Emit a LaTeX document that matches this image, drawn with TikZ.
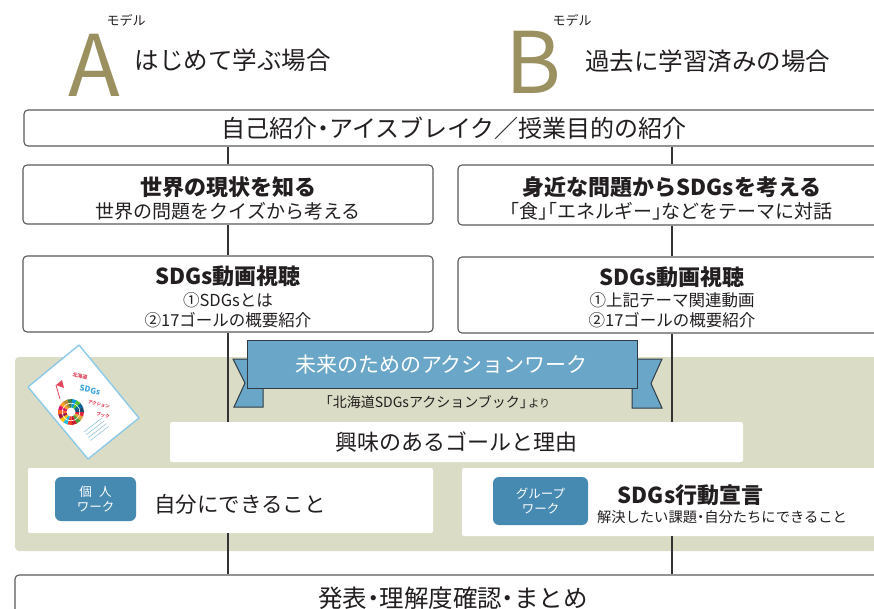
\documentclass[tikz,border=0pt]{standalone}
\usepackage{fontspec}
\setmainfont{Noto Sans CJK JP}
\newfontfamily\halffont{Noto Sans CJK JP}[RawFeature=+halt]
\usetikzlibrary{calc}

% half-width punctuation
\newcommand{\jlb}{{\halffont 「}}
\newcommand{\jrb}{{\halffont 」}}
\newcommand{\jdot}{{\halffont ・}}

\definecolor{modelgold}{HTML}{9A9060}
\definecolor{ink}{HTML}{231F20}
\definecolor{framegray}{HTML}{5A5A5A}
\definecolor{linegray}{HTML}{333333}
\definecolor{panelbg}{HTML}{DBDCC5}
\definecolor{bannerblue}{HTML}{6AA6C8}
\definecolor{bannerline}{HTML}{2F3B45}
\definecolor{badgeblue}{HTML}{4689B1}
\definecolor{bookline}{HTML}{8CCAEA}
\definecolor{bookred}{HTML}{E0475A}
\definecolor{bookblue}{HTML}{3FA6DC}

\tikzset{
  frame/.style={draw=framegray, line width=1.1pt, rounded corners=4pt, fill=white, inner sep=0pt},
  whitebox/.style={fill=white, rounded corners=2pt, inner sep=0pt},
  badge/.style={fill=badgeblue, rounded corners=6pt, text=white, align=center, inner sep=0pt,
    font=\fontsize{12.5}{15.5}\selectfont},
  link/.style={draw=linegray, line width=1.1pt},
  headtitle/.style={font=\fontsize{22}{26}\selectfont\bfseries, text=ink, inner sep=0pt},
  subline/.style={font=\fontsize{19}{22}\selectfont, text=ink, inner sep=0pt},
  smallline/.style={font=\fontsize{16.5}{20}\selectfont, text=ink, inner sep=0pt},
  bigline/.style={font=\fontsize{24}{28}\selectfont, text=ink, inner sep=0pt},
  tail/.style={fill=bannerblue, draw=bannerline, line width=1pt, line join=miter},
  bigletter/.style={font=\fontsize{85}{85}\selectfont, text=modelgold, inner sep=0pt,
    text height=61pt, text depth=0pt, anchor=base},
  covertext/.style={font=\fontsize{5}{6}\selectfont\bfseries, text=bookred, rotate=-12, inner sep=0pt},
}

\begin{document}
\begin{tikzpicture}[x=1pt, y=-1pt]
\useasboundingbox (0,0) rectangle (874,609);
\clip (0,0) rectangle (874,609);

% ---- headings of the two models
\node[font=\fontsize{13}{14}\selectfont, text=ink, inner sep=0pt] (modelA) at (126,20) {モデル};
\node[bigletter] (letterA) at (94,97) {A};
\node[font=\fontsize{24.5}{28}\selectfont, text=ink, inner sep=0pt] (headA) at (232.5,60) {はじめて学ぶ場合};

\node[font=\fontsize{13}{14}\selectfont, text=ink, inner sep=0pt] (modelB) at (572,20) {モデル};
\node[bigletter] (letterB) at (533,93.5) {B};
\node[font=\fontsize{24.5}{28}\selectfont, text=ink, inner sep=0pt] (headB) at (707.5,61) {過去に学習済みの場合};

% ---- background panel of the action work
\node[fill=panelbg, rounded corners=4pt, minimum width=885pt, minimum height=194pt, inner sep=0pt]
  (panel) at (457.5,454) {};

% ---- flow boxes
\node[frame, minimum width=860pt, minimum height=36pt] (intro) at (454,128) {};
\node[bigline] (introtext) at (454,128) {自己紹介\jdot アイスブレイク／授業目的の紹介};

\node[frame, minimum width=410pt, minimum height=59pt] (b1L) at (228,194.5) {};
\node[headtitle] (b1Lt) at (228,187) {世界の現状を知る};
\node[subline] (b1Ls) at (228,211) {世界の問題をクイズから考える};

\node[frame, minimum width=410pt, minimum height=76pt] (b2L) at (228,294) {};
\node[headtitle] (b2Lt) at (228,276) {SDGs動画視聴};
\node[smallline] (b2La) at (228,300) {①SDGsとは};
\node[smallline] (b2Lb) at (228,320) {②17ゴールの概要紹介};

\node[frame, minimum width=428pt, minimum height=60pt] (b1R) at (672,195) {};
\node[headtitle] (b1Rt) at (672,187) {身近な問題からSDGsを考える};
\node[subline] (b1Rs) at (671,211) {\jlb 食\jrb\jlb エネルギー\jrb などをテーマに対話};

\node[frame, minimum width=428pt, minimum height=76pt] (b2R) at (672,295) {};
\node[headtitle] (b2Rt) at (672,277) {SDGs動画視聴};
\node[smallline] (b2Ra) at (672,300) {①上記テーマ関連動画};
\node[smallline] (b2Rb) at (672,320) {②17ゴールの概要紹介};

% ---- boxes inside the panel
\node[whitebox, minimum width=573pt, minimum height=40pt] (interest) at (456.5,442) {};
\node[font=\fontsize{22}{26}\selectfont, text=ink, inner sep=0pt] (interesttext) at (456,442) {興味のあるゴールと理由};

\node[whitebox, minimum width=405pt, minimum height=65pt] (lowL) at (230.5,500.5) {};
\node[badge, minimum width=81pt, minimum height=44pt] (badgeL) at (95.5,499) {個\hspace{0.6em}人\\ワーク};
\node[font=\fontsize{21.5}{26}\selectfont, text=ink, inner sep=0pt] (lowLtext) at (240,504) {自分にできること};

\node[whitebox, minimum width=438pt, minimum height=68pt] (lowR) at (681,502) {};
\node[badge, minimum width=95pt, minimum height=48pt] (badgeR) at (540.5,501) {グループ\\ワーク};
\node[headtitle] (lowRtext) at (690.5,495) {SDGs行動宣言};
\node[font=\fontsize{14.3}{17}\selectfont, text=ink, inner sep=0pt] (lowRsub) at (722,517) {解決したい課題\jdot 自分たちにできること};

\node[frame, minimum width=878pt, minimum height=65pt] (summary) at (454,607.5) {};
\node[bigline, font=\fontsize{24.5}{28}\selectfont] (summarytext) at (453,598) {発表\jdot 理解度確認\jdot まとめ};

% ---- connectors, left column
\draw[link] (intro.south -| b1L.north) -- (b1L.north);
\draw[link] (b1L.south) -- (b2L.north);
\draw[link] (b2L.south) -- (b2L.south |- interest.north);
\draw[link] (lowL.south -| b2L.south) -- (summary.north -| b2L.south);
% ---- connectors, right column
\draw[link] (intro.south -| b1R.north) -- (b1R.north);
\draw[link] (b1R.south) -- (b2R.north);
\draw[link] (b2R.south) -- (b2R.south |- interest.north);
\draw[link] (lowR.south -| b2R.south) -- (summary.north -| b2R.south);

% ---- ribbon banner
\draw[tail] (233,359) -- (263,359) -- (263,407) -- (234,407) -- (245,383) -- cycle;
\draw[tail] (632,359) -- (662,359) -- (651,383.5) -- (662,408) -- (632,408) -- cycle;
\node[fill=bannerblue, draw=bannerline, line width=1pt, minimum width=390pt, minimum height=48pt, inner sep=0pt]
  (banner) at (442,364) {};
\node[font=\fontsize{21}{25}\selectfont, text=white, inner sep=0pt] (bannertext) at (441.5,365) {未来のためのアクションワーク};
\node[font=\fontsize{14}{16}\selectfont, text=ink, inner sep=0pt] (source) at (438,402.5)
  {\jlb 北海道SDGsアクションブック\jrb\hspace{1.5pt}{\fontsize{11}{12}\selectfont より}};

% ---- booklet cover
\filldraw[fill=white, draw=bookline, line width=1.4pt, line join=round]
  (28,387) -- (79,345) -- (139,418) -- (88,459) -- cycle;
\coordinate (globe) at (71,412);
\foreach \a/\c in {0/E5243B, 1/DDA63A, 2/4C9F38, 3/C5192D, 4/FF3A21, 5/26BDE2,
                   6/FCC30B, 7/A21942, 8/FD6925, 9/DD1367, 10/FD9D24, 11/BF8B2E,
                   12/3F7E44, 13/0A97D9, 14/56C02B, 15/00689D, 16/19486A} {
  \definecolor{wedge}{HTML}{\c}
  \fill[wedge] (globe) -- ++(\a*21.18:13) arc[start angle=\a*21.18, end angle=\a*21.18+21.18, radius=13] -- cycle;
}
\fill[white] (globe) circle[radius=4.5];
\draw[white, line width=0.6pt] (globe) circle[radius=8.8];
\draw[bookred, line width=0.8pt] (60,399) -- (56,385);
\fill[bookred] (56,385) -- (62,380) -- (64,388) -- cycle;
\node[covertext] (bookA) at (80,376) {北海道};
\node[covertext, font=\fontsize{8}{9}\selectfont\bfseries, text=bookblue] (bookB) at (90,390) {SDGs};
\node[covertext, font=\fontsize{4.5}{5}\selectfont\bfseries] (bookC) at (99,404) {アクション};
\node[covertext, font=\fontsize{4.5}{5}\selectfont\bfseries] (bookD) at (103,415) {ブック};
\foreach \k in {0,1,2,3} {
  \draw[bookline!80!gray, line width=0.5pt] ($(84,432)+(\k*2.2,\k*2.8)$) -- ++(18,-14);
}
\end{tikzpicture}
\end{document}
